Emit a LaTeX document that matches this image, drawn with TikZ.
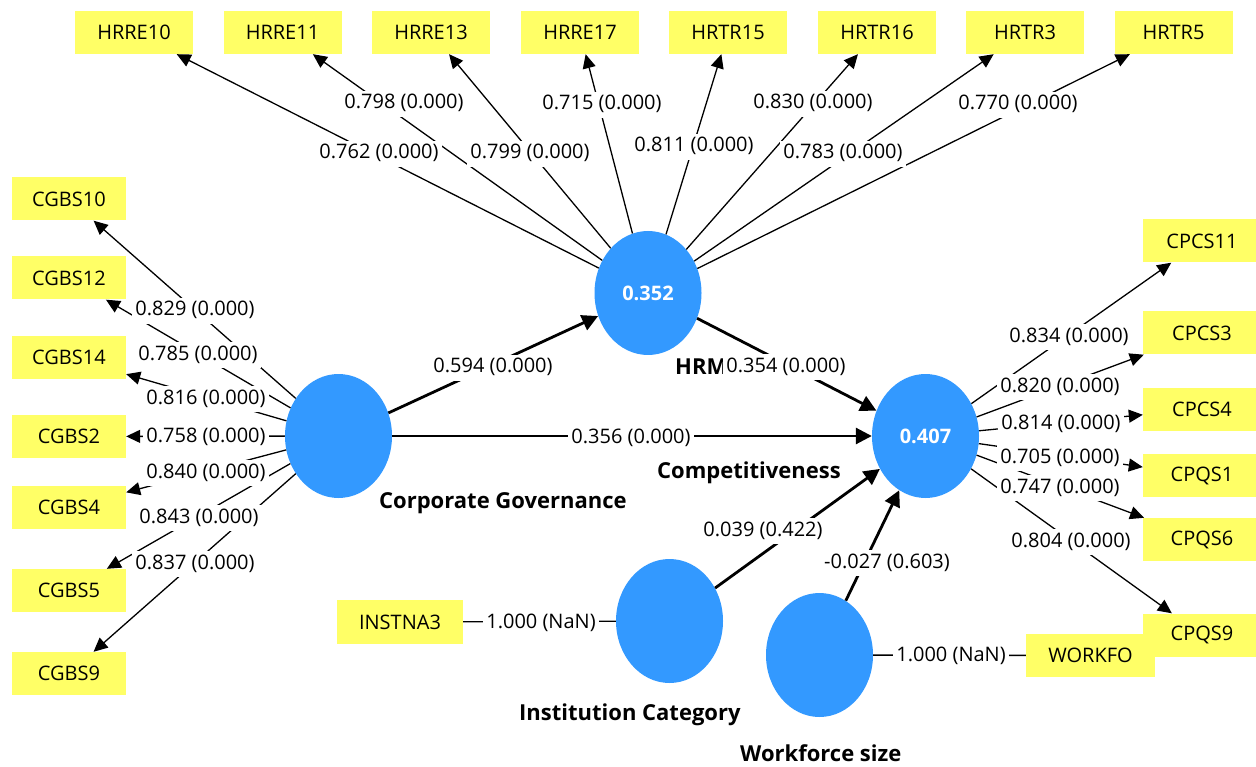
\documentclass[tikz,border=0pt]{standalone}
\usepackage{fontspec}
\setmainfont{Open Sans}
\usetikzlibrary{shapes.geometric,arrows.meta}
\definecolor{boxyellow}{RGB}{255,255,102}
\definecolor{lvblue}{RGB}{51,153,255}

\begin{document}
\begin{tikzpicture}[x=1pt,y=-1pt,
    ind/.style={fill=boxyellow, minimum width=118pt, minimum height=43pt, inner sep=0pt, font=\fontsize{20}{24}\selectfont},
    lv/.style={ellipse, fill=lvblue, minimum width=107pt, minimum height=124pt, inner sep=0pt, text=white, font=\bfseries\fontsize{20}{24}\selectfont},
    lvname/.style={anchor=west, inner sep=0pt, font=\bfseries\fontsize{22}{26}\selectfont},
    load/.style={line width=1.3pt, -{Triangle[length=14pt,width=13pt]}},
    struct/.style={line width=2.8pt, -{Triangle[length=16pt,width=16pt]}},
    single/.style={line width=1.3pt},
    coef/.style={fill=white, inner xsep=3pt, inner ysep=3pt, text height=15pt, text depth=5pt, font=\fontsize{20}{24}\selectfont}]
				% canvas 1256 x 767
				\fill[white] (0,0) rectangle (1256,767);
				\useasboundingbox (0,0) rectangle (1256,767);
				
				% latent variables
				\node[lv] (hrm) at (648,293) {0.352};
				\node[lv] (comp) at (925.5,436) {0.407};
				\node[lv] (cg) at (338.5,436) {};
				\node[lv] (ic) at (669.5,621) {};
				\node[lv] (ws) at (819.5,655) {};
				
				% HRM indicators
				\node[ind] (hrre10) at (134,32.5) {HRRE10};
				\node[ind] (hrre11) at (282.5,32.5) {HRRE11};
				\node[ind] (hrre13) at (431,32.5) {HRRE13};
				\node[ind] (hrre17) at (580,32.5) {HRRE17};
				\node[ind] (hrtr15) at (728,32.5) {HRTR15};
				\node[ind] (hrtr16) at (877,32.5) {HRTR16};
				\node[ind] (hrtr3) at (1025,32.5) {HRTR3};
				\node[ind] (hrtr5) at (1173.5,32.5) {HRTR5};
				
				% Corporate Governance indicators
				\node[ind, minimum width=114pt] (cgbs10) at (69,199) {CGBS10};
				\node[ind, minimum width=114pt] (cgbs12) at (69,278) {CGBS12};
				\node[ind, minimum width=114pt] (cgbs14) at (69,357.5) {CGBS14};
				\node[ind, minimum width=114pt] (cgbs2) at (69,436.5) {CGBS2};
				\node[ind, minimum width=114pt] (cgbs4) at (69,507.5) {CGBS4};
				\node[ind, minimum width=114pt] (cgbs5) at (69,590.5) {CGBS5};
				\node[ind, minimum width=114pt] (cgbs9) at (69,673.5) {CGBS9};
				
				% Competitiveness indicators
				\node[ind] (cpcs11) at (1202,241) {CPCS11};
				\node[ind] (cpcs3) at (1202,333) {CPCS3};
				\node[ind] (cpcs4) at (1202,409) {CPCS4};
				\node[ind] (cpqs1) at (1202,475.5) {CPQS1};
				\node[ind] (cpqs6) at (1202,539.5) {CPQS6};
				\node[ind] (cpqs9) at (1202,635) {CPQS9};
				
				% single items
				\node[ind, minimum width=126pt, minimum height=44pt] (instna3) at (400,622) {INSTNA3};
				\node[ind, minimum width=129pt] (workfo) at (1090.5,655.5) {WORKFO};
				
				% names
				\node[lvname] (hrmname) at (675,367) {HRM};
				\node[lvname] (compname) at (657,473) {Competitiveness};
				\node[lvname] (cgname) at (379,503) {Corporate Governance};
				\node[lvname] (icname) at (519,715) {Institution Category};
				\node[lvname] (wsname) at (740,753) {Workforce size};
				
				% Draw lines
				\draw[load] (hrm) -- (hrre10);
				\draw[load] (hrm) -- (hrre11);
				\draw[load] (hrm) -- (hrre13);
				\draw[load] (hrm) -- (hrre17);
				\draw[load] (hrm) -- (hrtr15);
				\draw[load] (hrm) -- (hrtr16);
				\draw[load] (hrm) -- (hrtr3);
				\draw[load] (hrm) -- (hrtr5);
				
				\draw[load] (cg) -- (cgbs10);
				\draw[load] (cg) -- (cgbs12);
				\draw[load] (cg) -- (cgbs14);
				\draw[load] (cg) -- (cgbs2);
				\draw[load] (cg) -- (cgbs4);
				\draw[load] (cg) -- (cgbs5);
				\draw[load] (cg) -- (cgbs9);
				
				\draw[load] (comp) -- (cpcs11);
				\draw[load] (comp) -- (cpcs3);
				\draw[load] (comp) -- (cpcs4);
				\draw[load] (comp) -- (cpqs1);
				\draw[load] (comp) -- (cpqs6);
				\draw[load] (comp) -- (cpqs9);
				
				\draw[single] (instna3) -- (ic);
				\draw[single] (ws) -- (workfo);
				
				\draw[struct] (cg) -- (hrm);
				\draw[struct] (cg) -- (comp);
				\draw[struct] (hrm) -- (comp);
				\draw[struct] (ic) -- (comp);
				\draw[struct] (ws) -- (comp);
				
				% coefficients
				\node[coef] (c-hrre10) at (379,154) {0.762 (0.000)};
				\node[coef] (c-hrre11) at (404,104) {0.798 (0.000)};
				\node[coef] (c-hrre13) at (530,154) {0.799 (0.000)};
				\node[coef] (c-hrre17) at (602,105) {0.715 (0.000)};
				\node[coef] (c-hrtr15) at (694,147) {0.811 (0.000)};
				\node[coef] (c-hrtr16) at (813,104) {0.830 (0.000)};
				\node[coef] (c-hrtr3) at (843,154) {0.783 (0.000)};
				\node[coef] (c-hrtr5) at (1018,105) {0.770 (0.000)};
				
				\node[coef] (c-cgbs10) at (195,311) {0.829 (0.000)};
				\node[coef] (c-cgbs12) at (198,355) {0.785 (0.000)};
				\node[coef] (c-cgbs14) at (206,399) {0.816 (0.000)};
				\node[coef] (c-cgbs2) at (206,437) {0.758 (0.000)};
				\node[coef] (c-cgbs4) at (206,473) {0.840 (0.000)};
				\node[coef] (c-cgbs5) at (199,518) {0.843 (0.000)};
				\node[coef] (c-cgbs9) at (195,564) {0.837 (0.000)};
				
				\node[coef] (c-cpcs11) at (1069,337) {0.834 (0.000)};
				\node[coef] (c-cpcs3) at (1060,387) {0.820 (0.000)};
				\node[coef] (c-cpcs4) at (1061,424) {0.814 (0.000)};
				\node[coef] (c-cpqs1) at (1060,458) {0.705 (0.000)};
				\node[coef] (c-cpqs6) at (1060,488) {0.747 (0.000)};
				\node[coef] (c-cpqs9) at (1071,542) {0.804 (0.000)};
				
				\node[coef] (c-instna3) at (541,623) {1.000 (NaN)};
				\node[coef] (c-workfo) at (951,656) {1.000 (NaN)};
				
				\node[coef] (c-cghrm) at (493,368) {0.594 (0.000)};
				\node[coef] (c-cgcomp) at (631,438) {0.356 (0.000)};
				\node[coef] (c-hrmcomp) at (786,367) {0.354 (0.000)};
				\node[coef] (c-iccomp) at (763,531) {0.039 (0.422)};
				\node[coef] (c-wscomp) at (887,563) {-0.027 (0.603)};
			\end{tikzpicture}
\end{document}
